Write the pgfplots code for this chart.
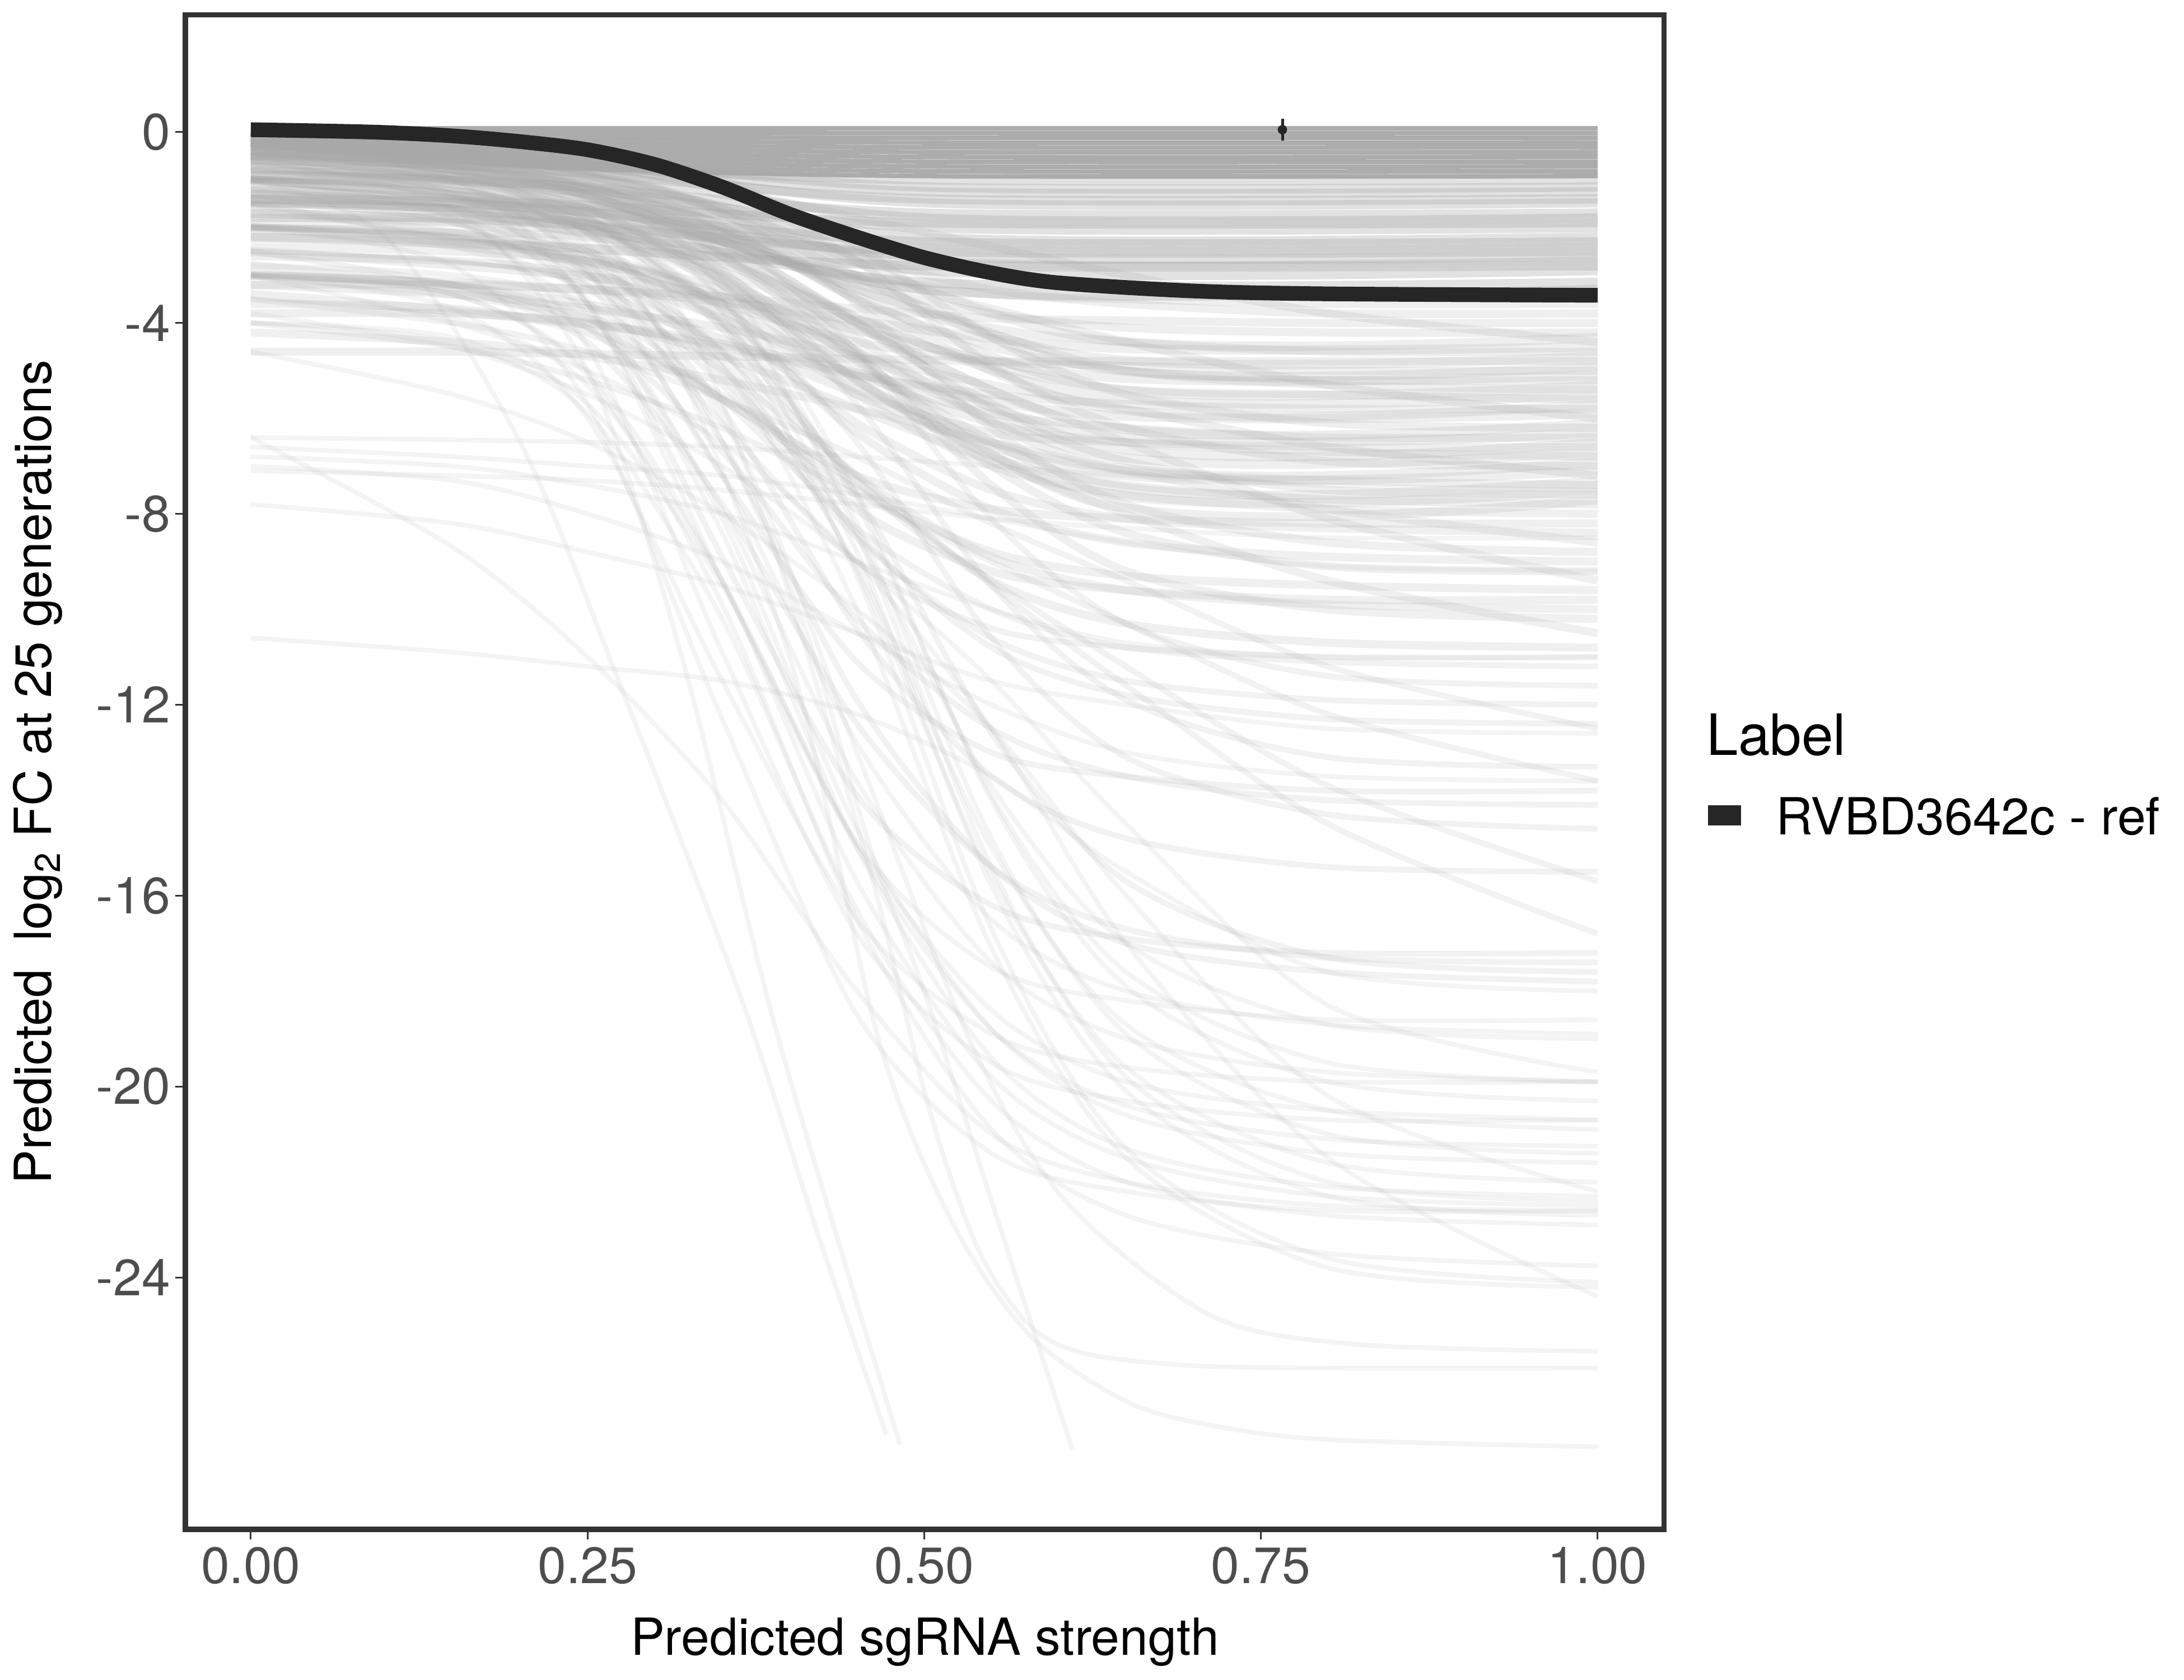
\documentclass[border=0pt]{standalone}
\usepackage{fontspec}
\setmainfont{TeX Gyre Heros}
\usepackage{pgfplots}
\pgfplotsset{compat=1.18}
\definecolor{cg}{HTML}{A8A8A8}
\definecolor{blk}{HTML}{262626}
\definecolor{frame}{HTML}{333333}
\definecolor{tl}{HTML}{4D4D4D}
% nine y-values at x = 0,.15,.25,.35,.45,.55,.65,.8,1
\newcommand\mkC[3]{\newcommand#1[9]{\addplot[smooth,line width=#3,color=cg,opacity=#2,forget plot] coordinates {(0,##1)(.15,##2)(.25,##3)(.35,##4)(.45,##5)(.55,##6)(.65,##7)(.8,##8)(1,##9)};}}
% near-flat curves: y at x=0, at #4, then from #5 on
\newcommand\mkF[5]{\newcommand#1[3]{\addplot[smooth,line width=#3,color=cg,opacity=#2,forget plot] coordinates {(0,##1)(#4,##2)(#5,##3)(1,##3)};}}
\mkC\Ca{.12}{2bp}
\mkC\Cb{.15}{2.5bp}
\mkC\Cc{.17}{3.5bp}
\mkC\Cd{.19}{3.5bp}
\mkF\Fd{.19}{4bp}{.3}{.62}
\mkF\Fb{.33}{4bp}{.22}{.5}
\mkF\Fa{.95}{2bp}{.22}{.5}
\begin{document}
\begin{tikzpicture}
\begin{axis}[
  at={(0,0)},anchor=south west,scale only axis,
  width=633.8bp,height=649bp,
  xmin=-0.0486,xmax=1.0495,ymin=-29.28,ymax=2.453,
  axis line style={line width=2.2bp,color=frame},
  tick align=outside,xtick pos=bottom,ytick pos=left,
  major tick length=4.2bp,
  tick style={line width=.7bp,color=frame},
  xtick={0,.25,.5,.75,1},xticklabels={0.00,0.25,0.50,0.75,1.00},
  ytick={0,-4,-8,-12,-16,-20,-24},yticklabels={0,-4,-8,-12,-16,-20,-24},
  tick label style={font=\fontsize{22}{26}\selectfont,color=tl},
  yticklabel style={xshift=1.2bp},
  xlabel={Predicted sgRNA strength},
  ylabel={Predicted\ \ log\textsubscript{2} FC at 25 generations},
  label style={font=\fontsize{22}{26}\selectfont,color=black},
  xlabel style={at={(axis description cs:0.5,-0.0745)},anchor=center},
  ylabel style={at={(axis description cs:-0.0998,0.5)},anchor=center},
]
% deep curves
\addplot[smooth,line width=2bp,color=cg,opacity=.12,forget plot] coordinates {(0,-1)(.1,-2.2)(.2,-6.5)(.28,-12)(.366,-18.3)(.42,-23)(.472,-27.3)};
\addplot[smooth,line width=2bp,color=cg,opacity=.12,forget plot] coordinates {(0,-.6)(.15,-1.6)(.25,-5)(.32,-11)(.385,-18.3)(.44,-23.6)(.482,-27.5)};
\addplot[smooth,line width=2bp,color=cg,opacity=.12,forget plot] coordinates {(0,-.3)(.2,-1.5)(.3,-4)(.4,-9.5)(.46,-15)(.5,-18)(.55,-22.4)(.61,-27.6)};
\addplot[smooth,line width=2bp,color=cg,opacity=.12,forget plot] coordinates {(0,-.5)(.2,-1.5)(.3,-4)(.4,-11)(.466,-19)(.52,-22.8)(.578,-25.2)(.65,-26.6)(.713,-27.1)(.8,-27.4)(1,-27.55)};
\addplot[smooth,line width=2bp,color=cg,opacity=.12,forget plot] coordinates {(0,-.8)(.15,-1.2)(.3,-3)(.38,-8)(.46,-15.5)(.503,-20.4)(.54,-23.4)(.578,-25)(.62,-25.6)(.7,-25.85)(.8,-25.9)(1,-25.9)};
\addplot[smooth,line width=2bp,color=cg,opacity=.12,forget plot] coordinates {(0,-1)(.2,-2)(.35,-6)(.45,-13)(.535,-19.1)(.605,-22.4)(.713,-24.8)(.82,-25.4)(1,-25.55)};
\Ca{-3}{-4}{-5}{-6.5}{-9}{-12.5}{-17}{-21.5}{-24.4}
\Ca{-4.6}{-5.5}{-6.5}{-8}{-10}{-12.5}{-16}{-20.2}{-22.2}
\Ca{-3.8}{-4.5}{-5.5}{-7}{-9}{-11.5}{-14.5}{-18.3}{-19.7}
\Ca{-10.6}{-10.9}{-11.2}{-11.5}{-12.2}{-13.5}{-15.5}{-17.6}{-18}
\Ca{-6.4}{-8.7}{-11}{-14}{-18}{-21}{-22}{-22.5}{-22.6}
\Ca{-6.4}{-6.45}{-6.5}{-6.6}{-6.8}{-7}{-7.2}{-7.4}{-7.5}
\Ca{-6.6}{-6.8}{-7}{-7.2}{-7.6}{-8.1}{-8.6}{-9.1}{-9.2}
\Ca{-7.1}{-7.2}{-7.3}{-7.5}{-7.8}{-8.1}{-8.3}{-8.5}{-8.5}
\Ca{-6.8}{-7}{-7.4}{-8}{-9}{-10}{-10.7}{-11}{-11}
\Ca{-7.8}{-8.2}{-8.8}{-9.5}{-10.5}{-11.5}{-12}{-12.5}{-12.6}
\Ca{-7}{-7.3}{-8}{-9}{-10.5}{-12}{-13}{-13.5}{-13.6}
\Ca{-2}{-2.2}{-2.9}{-4.9}{-10}{-17.1}{-21.5}{-23.8}{-24.2}
\Ca{-1}{-1.2}{-1.9}{-4}{-9.3}{-16.7}{-21.3}{-23.6}{-24.1}
\Ca{-3}{-3.4}{-5.1}{-9.9}{-16.5}{-20.9}{-22.7}{-23.5}{-23.76}
\Ca{-1.5}{-1.9}{-3.6}{-8.4}{-15}{-19.4}{-21.3}{-22.1}{-22.3}
\Ca{-.5}{-.7}{-1.4}{-3.3}{-8.4}{-15.4}{-19.8}{-22}{-22.4}
\Ca{-3}{-3.4}{-5}{-9.4}{-15.7}{-19.8}{-21.5}{-22.3}{-22.5}
\Ca{-2}{-2.8}{-5.7}{-12.3}{-18.5}{-21.4}{-22.2}{-22.6}{-22.6}
\Ca{-1}{-1.2}{-1.9}{-3.8}{-8.8}{-15.8}{-20.1}{-22.3}{-22.7}
\Ca{-4}{-4.4}{-5.9}{-10.2}{-16.3}{-20.3}{-22}{-22.7}{-22.9}
\Ca{-2}{-2.2}{-2.8}{-4.6}{-9.2}{-15.6}{-19.6}{-21.6}{-22}
\Ca{-1.5}{-1.9}{-3.5}{-8.1}{-14.6}{-18.8}{-20.6}{-21.4}{-21.6}
\Ca{-.8}{-1}{-1.6}{-3.5}{-8.2}{-14.8}{-18.9}{-21}{-21.4}
\Ca{-3.5}{-3.9}{-5.3}{-9.4}{-15}{-18.8}{-20.4}{-21.1}{-21.25}
\Ca{-2.5}{-2.7}{-3.2}{-4.9}{-9.1}{-15}{-18.7}{-20.5}{-20.9}
\Ca{-1}{-1.8}{-4.5}{-10.9}{-16.8}{-19.5}{-20.3}{-20.7}{-20.7}
\Ca{-4}{-4.3}{-5.7}{-9.5}{-14.9}{-18.4}{-19.9}{-20.5}{-20.7}
\Ca{-.5}{-.7}{-1.3}{-3.1}{-7.6}{-14}{-17.9}{-19.9}{-20.3}
\Ca{-2}{-2.4}{-3.8}{-7.9}{-13.6}{-17.4}{-19}{-19.7}{-19.9}
\Ca{-1}{-1.2}{-1.8}{-3.5}{-7.8}{-13.9}{-17.6}{-19.5}{-19.9}
\Ca{-3}{-3.7}{-6}{-11.5}{-16.5}{-18.9}{-19.6}{-19.9}{-19.9}
\Ca{-2.5}{-2.7}{-3.2}{-4.6}{-8.5}{-13.7}{-17}{-18.7}{-19}
\Ca{-1.5}{-1.8}{-3.2}{-7.2}{-12.8}{-16.5}{-18}{-18.7}{-18.9}
\Ca{-.3}{-1}{-3.6}{-9.4}{-14.9}{-17.5}{-18.2}{-18.6}{-18.6}
% -12 to -18
\Cb{-1}{-1.3}{-2.7}{-6.5}{-11.9}{-15.4}{-17}{-17.6}{-17.8}
\Cb{-2}{-2.2}{-2.6}{-4}{-7.6}{-12.6}{-15.7}{-17.3}{-17.6}
\Cb{-3}{-3.3}{-4.4}{-7.8}{-12.4}{-15.4}{-16.7}{-17.3}{-17.4}
\Cb{-.6}{-1.3}{-3.6}{-8.9}{-13.9}{-16.2}{-16.9}{-17.2}{-17.2}
\Cb{-1.5}{-2.3}{-3.3}{-5}{-7.2}{-9.5}{-11.6}{-14.5}{-16.8}
\Cb{-2.5}{-3.2}{-4.1}{-5.5}{-7.4}{-9.4}{-11.2}{-13.7}{-15.7}
\Cb{-1}{-1.3}{-2.5}{-5.8}{-10.4}{-13.5}{-14.8}{-15.4}{-15.5}
\Cb{-2}{-2.1}{-2.5}{-3.6}{-6.5}{-10.6}{-13.1}{-14.3}{-14.6}
\Cb{-3}{-3.2}{-4.1}{-6.7}{-10.2}{-12.5}{-13.5}{-14}{-14.1}
\Cb{-.5}{-1}{-2.9}{-7.2}{-11.1}{-13}{-13.5}{-13.8}{-13.8}
\Cb{-4}{-4.5}{-5.2}{-6.2}{-7.6}{-9}{-10.3}{-12.2}{-13.6}
\Cb{-1.5}{-1.6}{-2}{-3}{-5.7}{-9.5}{-11.9}{-13.1}{-13.3}
\Cb{-3.5}{-4}{-4.6}{-5.6}{-6.8}{-8.2}{-9.4}{-11.2}{-12.5}
\Cb{-1}{-1.2}{-2.1}{-4.8}{-8.4}{-10.8}{-11.8}{-12.3}{-12.4}
\Cb{-2}{-2.2}{-3}{-5.3}{-8.5}{-10.6}{-11.5}{-11.9}{-12}
\Cb{-.7}{-.8}{-1.1}{-2.1}{-4.6}{-8.1}{-10.3}{-11.4}{-11.6}
\Cb{-2.8}{-3}{-3.6}{-5.6}{-8.3}{-10}{-10.8}{-11.1}{-11.2}
\Cb{-1.2}{-1.6}{-3}{-6.1}{-9}{-10.4}{-10.8}{-11}{-11}
% -8 to -11
\Cc{-.8}{-1}{-1.8}{-4.1}{-7.3}{-9.4}{-10.3}{-10.7}{-10.8}
\Cc{-3}{-3.4}{-3.9}{-4.7}{-5.8}{-6.9}{-8}{-9.4}{-10.5}
\Cc{-1.5}{-1.6}{-1.8}{-2.6}{-4.6}{-7.4}{-9.2}{-10}{-10.2}
\Cc{-2}{-2.2}{-2.8}{-4.6}{-7.2}{-8.9}{-9.6}{-9.9}{-10}
\Cc{-.4}{-.8}{-2.1}{-5.1}{-7.9}{-9.2}{-9.6}{-9.8}{-9.8}
\Cc{-3.6}{-3.7}{-4.2}{-5.6}{-7.5}{-8.8}{-9.3}{-9.5}{-9.6}
\Cc{-1}{-1.4}{-2}{-2.9}{-4.1}{-5.4}{-6.5}{-8.1}{-9.4}
\Cc{-2.4}{-2.5}{-2.7}{-3.3}{-4.8}{-7}{-8.4}{-9.1}{-9.2}
\Cc{-1.2}{-1.4}{-2}{-3.8}{-6.3}{-7.9}{-8.6}{-8.9}{-9}
\Cc{-.6}{-.7}{-.9}{-1.7}{-3.6}{-6.2}{-7.8}{-8.6}{-8.8}
\Cc{-4.2}{-4.4}{-4.7}{-5.2}{-5.8}{-6.5}{-7.1}{-7.9}{-8.6}
\Cc{-1.8}{-1.9}{-2.5}{-4}{-6.1}{-7.5}{-8.1}{-8.3}{-8.4}
\Cc{-3}{-3.2}{-3.9}{-5.6}{-7.2}{-7.9}{-8.1}{-8.2}{-8.2}
\Cc{-.9}{-1}{-1.6}{-3.2}{-5.5}{-7}{-7.6}{-7.9}{-8}
% -3.5 to -8
\Cd{-.5}{-.6}{-1.2}{-2.9}{-5.2}{-6.8}{-7.4}{-7.7}{-7.8}
\Cd{-2}{-2.1}{-2.2}{-2.7}{-4}{-5.8}{-6.9}{-7.5}{-7.6}
\Cd{-1}{-1.1}{-1.6}{-3.1}{-5.2}{-6.5}{-7.1}{-7.3}{-7.4}
\Cd{-3.2}{-3.4}{-3.7}{-4.1}{-4.7}{-5.3}{-5.8}{-6.6}{-7.2}
\Cd{-.3}{-.4}{-.6}{-1.2}{-2.7}{-4.9}{-6.2}{-6.9}{-7}
\Cd{-1.5}{-1.6}{-2}{-3.2}{-5}{-6.1}{-6.5}{-6.7}{-6.8}
\Cd{-.8}{-1}{-1.8}{-3.7}{-5.4}{-6.3}{-6.5}{-6.6}{-6.6}
\Cd{-2.6}{-2.7}{-3}{-3.9}{-5.1}{-5.9}{-6.2}{-6.4}{-6.4}
\Cd{-.2}{-.3}{-.4}{-1}{-2.4}{-4.3}{-5.5}{-6.1}{-6.2}
\Cd{-1.2}{-1.4}{-1.8}{-2.3}{-3}{-3.7}{-4.4}{-5.3}{-6}
\Cd{-3.8}{-3.8}{-4}{-4.5}{-5.1}{-5.5}{-5.7}{-5.8}{-5.8}
\Cd{-.6}{-.7}{-1.1}{-2.3}{-3.9}{-4.9}{-5.4}{-5.5}{-5.6}
\Cd{-1.8}{-1.8}{-1.9}{-2.3}{-3.1}{-4.2}{-5}{-5.3}{-5.4}
\Cd{-.4}{-.5}{-.9}{-2}{-3.5}{-4.5}{-5}{-5.2}{-5.2}
\Cd{-2.2}{-2.3}{-2.7}{-3.6}{-4.4}{-4.8}{-4.9}{-5}{-5}
\Cd{-4.6}{-4.6}{-4.65}{-4.7}{-4.75}{-4.8}{-4.8}{-4.8}{-4.8}
\Cd{-.9}{-1}{-1.3}{-2.1}{-3.3}{-4.1}{-4.4}{-4.6}{-4.6}
\Cd{-.2}{-.4}{-.7}{-1.2}{-1.8}{-2.4}{-3}{-3.8}{-4.4}
\Cd{-1.4}{-1.5}{-1.7}{-2.3}{-3.2}{-3.8}{-4.1}{-4.2}{-4.2}
\Cd{-3.2}{-3.2}{-3.3}{-3.45}{-3.7}{-3.9}{-3.95}{-4}{-4}
\Cd{-.5}{-.6}{-.8}{-1.6}{-2.6}{-3.3}{-3.6}{-3.8}{-3.8}
\Cd{-1.9}{-1.9}{-2.1}{-2.5}{-3}{-3.4}{-3.5}{-3.6}{-3.6}
\Fd{-.3}{-1.8}{-7.7}
\Fd{-1.6}{-3}{-7.5}
\Fd{-.7}{-2.3}{-7.3}
\Fd{-2.8}{-3.9}{-7.1}
\Fd{-.4}{-1.8}{-6.9}
\Fd{-1.1}{-2.5}{-6.7}
\Fd{-.2}{-1.6}{-6.5}
\Fd{-2}{-3}{-6.3}
\Fd{-.6}{-1.9}{-6.1}
\Fd{-3.4}{-4.2}{-5.9}
\Fd{-.3}{-1.4}{-5.7}
\Fd{-1.3}{-2.3}{-5.5}
\Fd{-.5}{-1.6}{-5.3}
\Fd{-2.5}{-3.2}{-5.1}
\Fd{-.2}{-1.2}{-4.9}
\Fd{-1}{-1.9}{-4.7}
\Fd{-3}{-3.4}{-4.5}
\Fd{-.4}{-1.2}{-4.3}
% -1 to -3.4
\Fb{-.3}{-1.1}{-3.3}
\Fb{-1.4}{-1.8}{-3.15}
\Fb{-.5}{-1.2}{-2.9}
\Fb{-2.2}{-2.4}{-2.8}
\Fb{-.2}{-1}{-2.7}
\Fb{-1}{-1.5}{-2.6}
\Fb{-1.7}{-1.9}{-2.5}
\Fb{-.4}{-1}{-2.4}
\Fb{-1.3}{-1.6}{-2.3}
\Fb{-.1}{-.8}{-2.2}
\Fb{-.7}{-1.1}{-2}
\Fb{-1.4}{-1.5}{-1.9}
\Fb{-.2}{-.7}{-1.8}
\Fb{-.9}{-1.1}{-1.7}
\Fb{-.1}{-.6}{-1.48}
\Fb{-.5}{-.8}{-1.4}
\Fb{-.3}{-.6}{-1.25}
\Fb{-.1}{-.5}{-1.15}
\Fb{-.4}{-.7}{-1}
% top band
\Fa{.08}{.08}{.08}
\Fa{0}{-.01}{-.02}
\Fa{-.03}{-.09}{-.12}
\Fa{-.06}{-.17}{-.22}
\Fa{-.09}{-.25}{-.32}
\Fa{-.12}{-.33}{-.42}
\Fa{-.15}{-.41}{-.52}
\Fa{-.18}{-.49}{-.62}
\Fa{-.21}{-.57}{-.72}
\Fa{-.24}{-.65}{-.82}
\Fa{-.27}{-.73}{-.92}
% reference curve
\addplot[smooth,line width=6.3bp,color=blk,forget plot] coordinates {(0,.05)(.09,0)(.15,-.08)(.2,-.2)(.25,-.37)(.3,-.68)(.35,-1.15)(.4,-1.72)(.45,-2.2)(.5,-2.63)(.55,-2.95)(.6,-3.16)(.7,-3.33)(.8,-3.39)(1,-3.42)};
% observed point
\addplot[only marks,mark=*,mark size=1.8bp,color=blk,forget plot,
  error bars/.cd,y dir=both,y explicit,error bar style={line width=1.2bp,color=blk},error mark=none]
  coordinates {(.766,.05) +- (0,.23)};
\end{axis}
\node[anchor=base west,inner sep=0pt,font=\fontsize{24.5}{28}\selectfont] at (651.8bp,331.7bp) {Label};
\fill[blk] (652.6bp,301.7bp) rectangle (666.7bp,310.3bp);
\node[anchor=base west,inner sep=0pt,font=\fontsize{22}{26}\selectfont] at (681.5bp,297.8bp) {RVBD3642c - ref};
\path[use as bounding box] (-79.44bp,-64.56bp) rectangle (856.56bp,655.44bp);
\end{tikzpicture}
\end{document}
